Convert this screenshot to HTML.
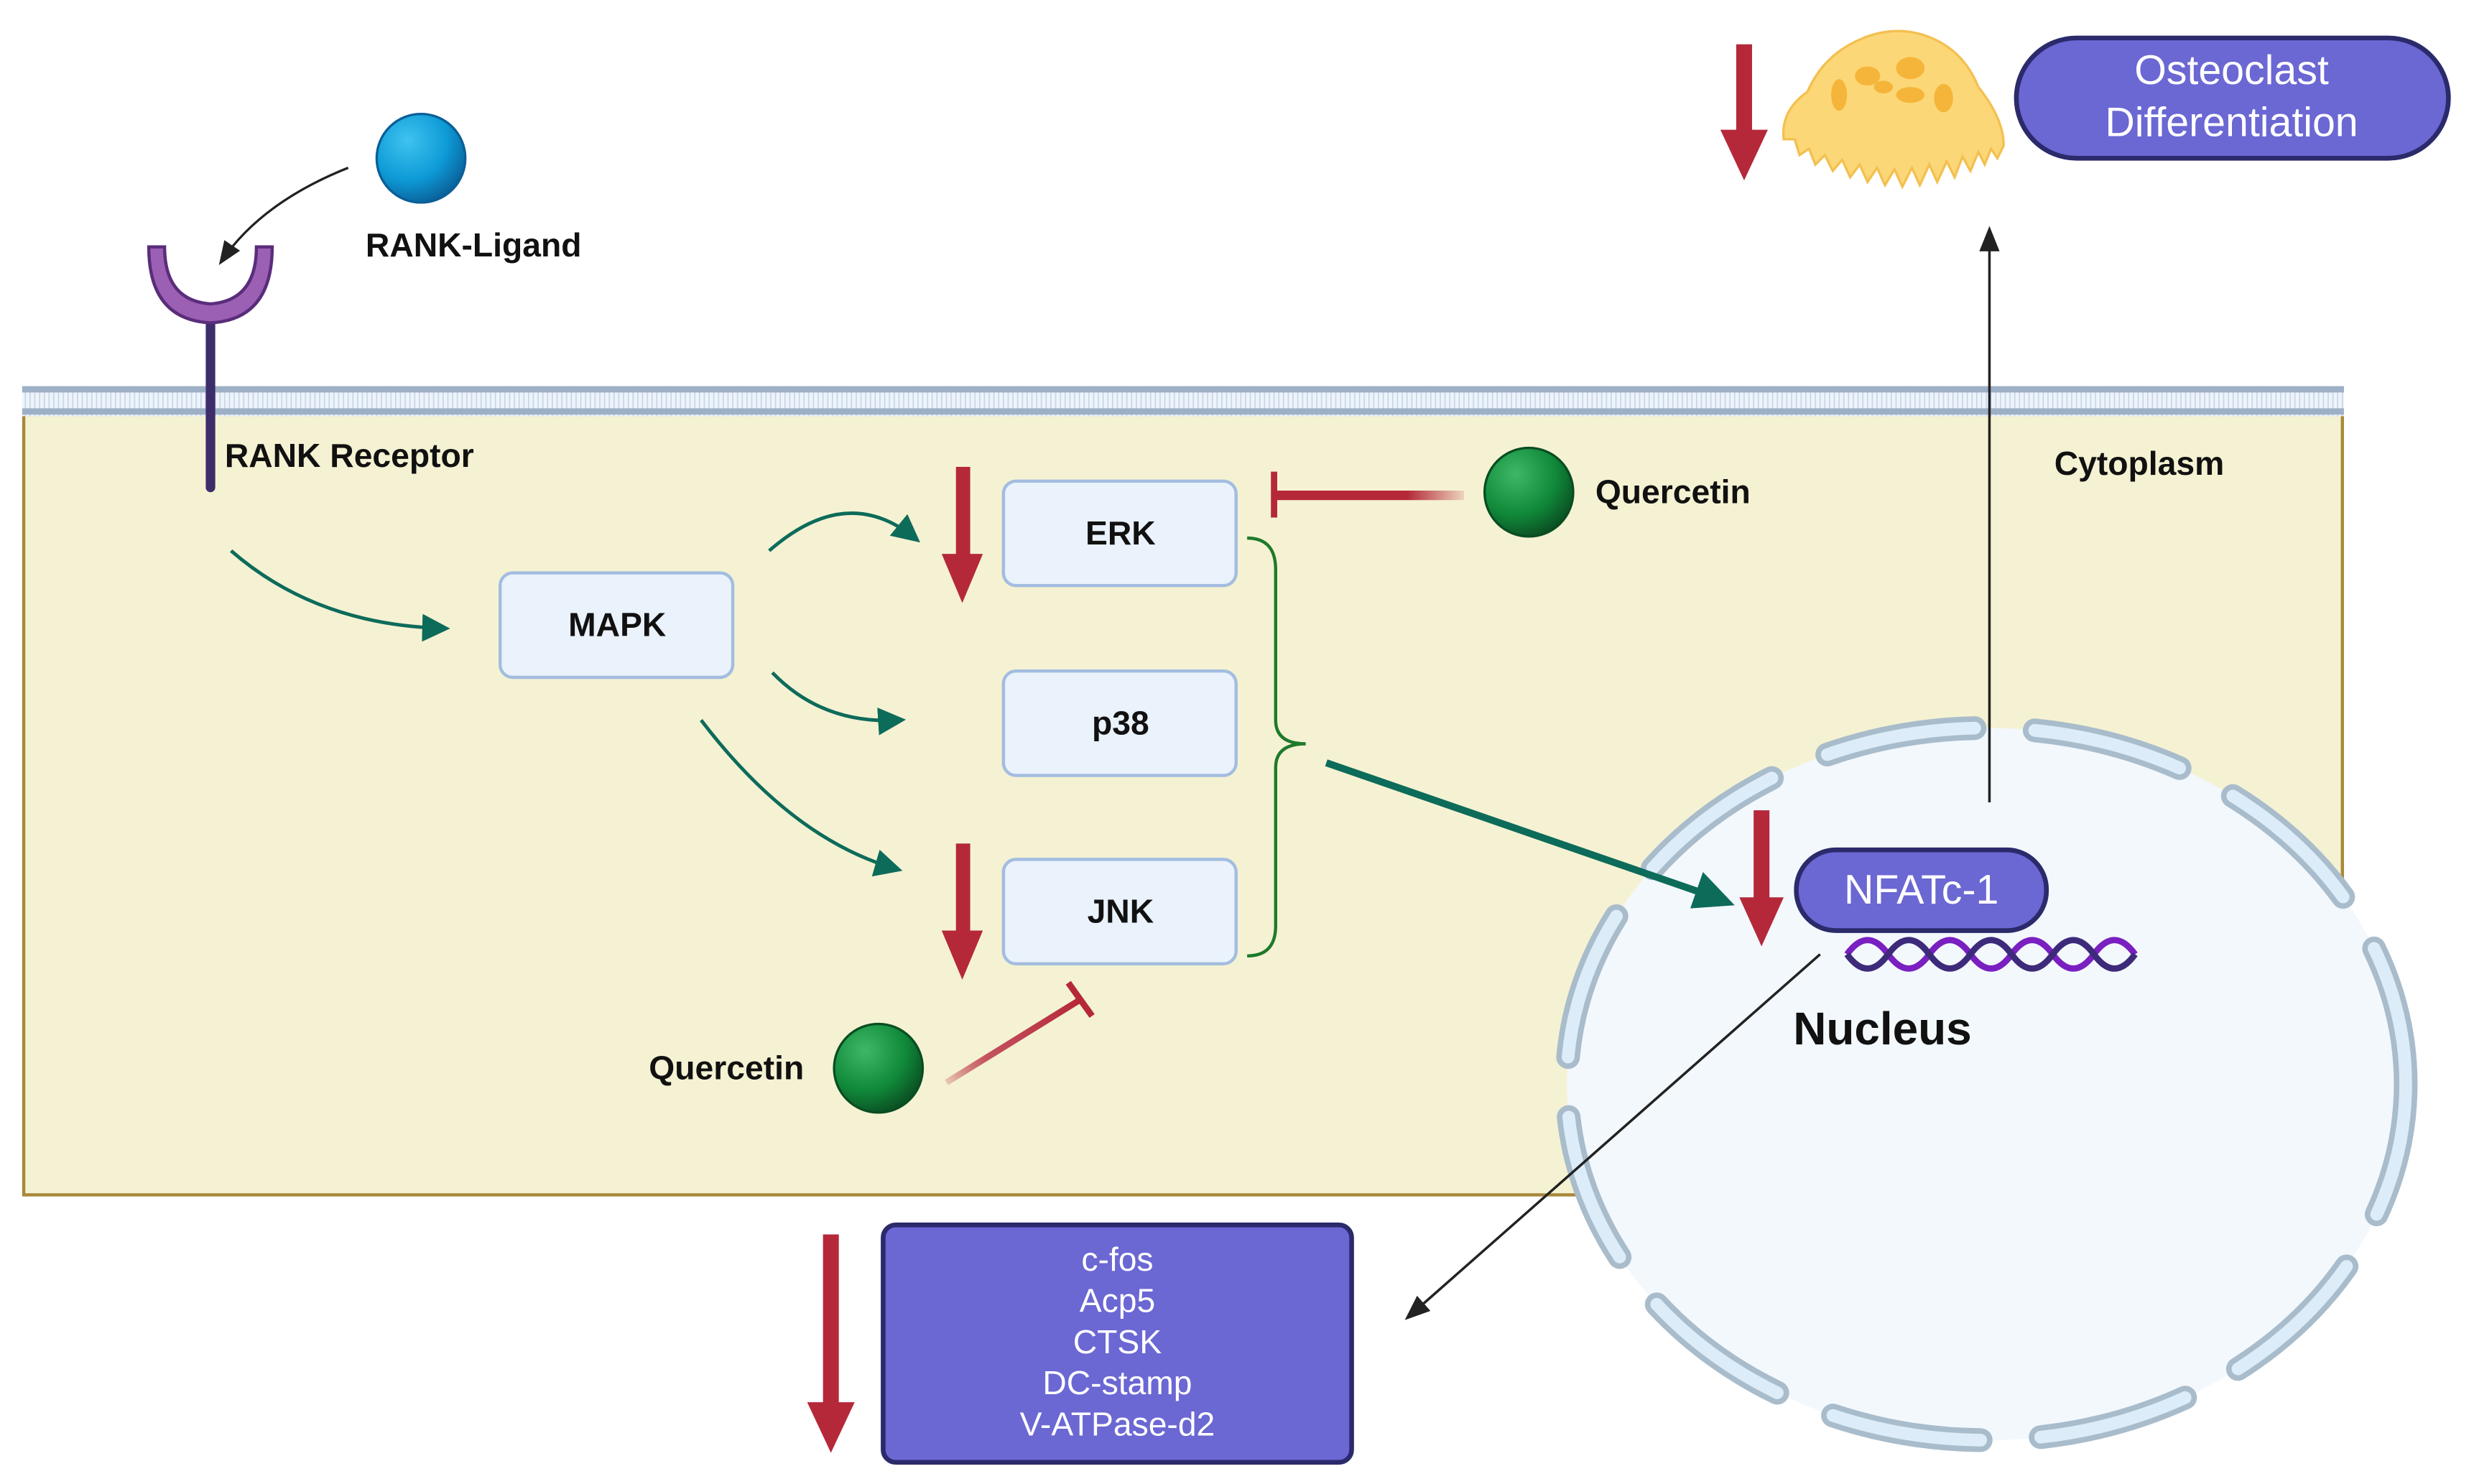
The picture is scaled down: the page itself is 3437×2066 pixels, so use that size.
<!DOCTYPE html>
<html><head><meta charset="utf-8"><style>html,body{margin:0;padding:0;background:#fff}svg{display:block}text{font-family:"Liberation Sans",sans-serif}</style></head>
<body>
<svg width="3437" height="2066" viewBox="0 0 1560 937.7" preserveAspectRatio="none" xmlns="http://www.w3.org/2000/svg">
<defs>
<radialGradient id="gb" cx="0.35" cy="0.3" r="0.75"><stop offset="0" stop-color="#3fc3f0"/><stop offset="0.6" stop-color="#0d9ad6"/><stop offset="1" stop-color="#0a5f98"/></radialGradient>
<radialGradient id="gg" cx="0.35" cy="0.3" r="0.75"><stop offset="0" stop-color="#3fb866"/><stop offset="0.6" stop-color="#108a3a"/><stop offset="1" stop-color="#0a4d22"/></radialGradient>
<linearGradient id="inh1" gradientUnits="userSpaceOnUse" x1="805" y1="0" x2="925" y2="0"><stop offset="0" stop-color="#b5283a"/><stop offset="0.7" stop-color="#b5283a"/><stop offset="1" stop-color="#b5283a" stop-opacity="0.15"/></linearGradient>
<linearGradient id="inh2" gradientUnits="userSpaceOnUse" x1="682" y1="632" x2="598" y2="684"><stop offset="0" stop-color="#b5283a"/><stop offset="0.7" stop-color="#c4525f"/><stop offset="1" stop-color="#b5283a" stop-opacity="0.2"/></linearGradient>
<pattern id="mem" width="3" height="20" patternUnits="userSpaceOnUse"><rect width="3" height="20" fill="#eef4fb"/><line x1="1" y1="0" x2="1" y2="20" stroke="#c8d6e6" stroke-width="0.8"/></pattern>
<marker id="gh" markerWidth="8" markerHeight="8" refX="6" refY="4" orient="auto" markerUnits="strokeWidth"><path d="M0,0 L8,4 L0,8 Z" fill="#0d6b5a"/></marker>
<marker id="bh" markerWidth="10" markerHeight="10" refX="8" refY="5" orient="auto" markerUnits="strokeWidth"><path d="M0,1 L10,5 L0,9 Z" fill="#222"/></marker>
</defs>

<rect x="15" y="262" width="1465" height="493" fill="#f5f2d3" stroke="#a8883a" stroke-width="2"/>
<rect x="14" y="244" width="1467" height="19" fill="url(#mem)"/>
<rect x="14" y="244" width="1467" height="4" fill="#9db0c6"/>
<rect x="14" y="258" width="1467" height="4" fill="#9db0c6"/>

<ellipse cx="1255" cy="685" rx="265" ry="225" fill="#f3f8fd"/>
<ellipse cx="1255" cy="685" rx="265" ry="225" fill="none" stroke="#a9bccb" stroke-width="15" stroke-dasharray="95 38" stroke-dashoffset="10" stroke-linecap="round"/>
<ellipse cx="1255" cy="685" rx="265" ry="225" fill="none" stroke="#dcedf9" stroke-width="8" stroke-dasharray="95 38" stroke-dashoffset="10" stroke-linecap="round"/>

<line x1="133" y1="195" x2="133" y2="308" stroke="#3e2d6b" stroke-width="6" stroke-linecap="round"/>
<path d="M94,156 Q94,202 133,204 Q172,202 172,156 L162,156 Q162,190 133,192 Q104,190 104,156 Z" fill="#9b5fb3" stroke="#5a2d7b" stroke-width="2"/>
<circle cx="266" cy="100" r="28" fill="url(#gb)" stroke="#0a5f98" stroke-width="1.5"/>
<path d="M220,106 Q165,128 140,165" fill="none" stroke="#222" stroke-width="1.5" marker-end="url(#bh)"/>
<text x="231" y="162" font-size="21" font-weight="bold" fill="#111">RANK-Ligand</text>
<text x="142" y="295" font-size="21" font-weight="bold" fill="#111">RANK Receptor</text>
<text x="1298" y="300" font-size="21" font-weight="bold" fill="#111">Cytoplasm</text>

<g fill="#eaf2fb" stroke="#a3bde0" stroke-width="2">
<rect x="316" y="362" width="147" height="66" rx="8"/>
<rect x="634" y="304" width="147" height="66" rx="8"/>
<rect x="634" y="424" width="147" height="66" rx="8"/>
<rect x="634" y="543" width="147" height="66" rx="8"/>
</g>
<g font-size="21" font-weight="bold" fill="#111" text-anchor="middle">
<text x="390" y="402">MAPK</text>
<text x="708" y="344">ERK</text>
<text x="708" y="464">p38</text>
<text x="708" y="583">JNK</text>
</g>

<g fill="none" stroke="#0d6b5a" stroke-width="2.2">
<path d="M146,348 Q200,395 280,397" marker-end="url(#gh)"/>
<path d="M486,348 Q535,305 578,340" marker-end="url(#gh)"/>
<path d="M488,425 Q520,458 568,455" marker-end="url(#gh)"/>
<path d="M443,455 Q500,530 566,549" marker-end="url(#gh)"/>
<path d="M788,340 Q806,340 806,360 L806,455 Q806,470 825,470 Q806,470 806,485 L806,585 Q806,604 788,604" stroke="#1e7a2a" stroke-width="2"/>
</g>
<line x1="838" y1="482" x2="1072" y2="563" stroke="#0d6b5a" stroke-width="4.5"/>
<path d="M1096,572 L1068,574 L1076,551 Z" fill="#0d6b5a"/>

<g fill="#b5283a">
<rect x="604" y="295" width="9" height="58"/><path d="M595,350 L621,350 L608,381 Z"/>
<rect x="604" y="533" width="9" height="58"/><path d="M595,588 L621,588 L608,619 Z"/>
<rect x="1108" y="512" width="10" height="58"/><path d="M1099,567 L1127,567 L1113,598 Z"/>
<rect x="520" y="780" width="10" height="108"/><path d="M510,886 L540,886 L525,918 Z"/>
<rect x="1097" y="28" width="10" height="55"/><path d="M1087,82 L1117,82 L1102,114 Z"/>
</g>

<rect x="805" y="310" width="120" height="6" fill="url(#inh1)"/>
<line x1="805" y1="298" x2="805" y2="327" stroke="#b5283a" stroke-width="4"/>
<circle cx="966" cy="311" r="28" fill="url(#gg)" stroke="#0a4d22" stroke-width="1.5"/>
<text x="1008" y="318" font-size="21" font-weight="bold" fill="#111">Quercetin</text>
<line x1="598" y1="684" x2="682" y2="632" stroke="url(#inh2)" stroke-width="4"/>
<line x1="675" y1="621" x2="690" y2="642" stroke="#b5283a" stroke-width="4"/>
<circle cx="555" cy="675" r="28" fill="url(#gg)" stroke="#0a4d22" stroke-width="1.5"/>
<text x="410" y="682" font-size="21" font-weight="bold" fill="#111">Quercetin</text>

<rect x="1135" y="537" width="158" height="51" rx="25" fill="#6b67d3" stroke="#2b2a6b" stroke-width="3"/>
<text x="1214" y="571" font-size="26" fill="#fff" text-anchor="middle">NFATc-1</text>
<path d="M1167,603 Q1180,585 1193,603 T1219,603 T1245,603 T1271,603 T1297,603 T1323,603 T1349,603" fill="none" stroke="#7a1fc0" stroke-width="4"/>
<path d="M1167,603 Q1180,621 1193,603 T1219,603 T1245,603 T1271,603 T1297,603 T1323,603 T1349,603" fill="none" stroke="#3d2a7a" stroke-width="4"/>
<text x="1133" y="660" font-size="29" font-weight="bold" fill="#111">Nucleus</text>

<line x1="1150" y1="603" x2="890" y2="832" stroke="#222" stroke-width="1.6" marker-end="url(#bh)"/>
<line x1="1257" y1="507" x2="1257" y2="146" stroke="#222" stroke-width="1.6" marker-end="url(#bh)"/>

<rect x="558" y="774" width="296" height="150" rx="8" fill="#6b67d3" stroke="#2b2a6b" stroke-width="3"/>
<g font-size="21" fill="#fff" text-anchor="middle">
<text x="706" y="803">c-fos</text>
<text x="706" y="829">Acp5</text>
<text x="706" y="855">CTSK</text>
<text x="706" y="881">DC-stamp</text>
<text x="706" y="907">V-ATPase-d2</text>
</g>

<!-- osteoclast -->
<path d="M1175,25 Q1195,16 1215,22 Q1240,30 1250,55 Q1266,75 1266,92 L1262,100 L1258,94 L1254,104 L1250,96 L1245,108 L1240,99 L1235,112 L1230,102 L1224,115 L1219,104 L1213,117 L1208,106 L1202,118 L1197,107 L1191,117 L1186,106 L1180,115 L1175,104 L1169,112 L1164,101 L1158,108 L1153,98 L1147,104 L1143,94 L1137,98 L1134,88 L1127,88 Q1125,70 1142,58 Q1152,35 1175,25 Z" fill="#fcd777" stroke="#f3c050" stroke-width="1.5"/>
<g fill="#f5b53a">
<ellipse cx="1180" cy="48" rx="8" ry="6"/><ellipse cx="1207" cy="43" rx="9" ry="7"/>
<ellipse cx="1162" cy="60" rx="5" ry="10"/><ellipse cx="1207" cy="60" rx="9" ry="5"/>
<ellipse cx="1228" cy="62" rx="6" ry="9"/><ellipse cx="1190" cy="55" rx="6" ry="4"/>
</g>
<rect x="1274" y="24" width="273" height="76" rx="38" fill="#6b67d3" stroke="#2b2a6b" stroke-width="3"/>
<text x="1410" y="53" font-size="26" fill="#fff" text-anchor="middle">Osteoclast</text>
<text x="1410" y="86" font-size="26" fill="#fff" text-anchor="middle">Differentiation</text>
</svg>
</body></html>
